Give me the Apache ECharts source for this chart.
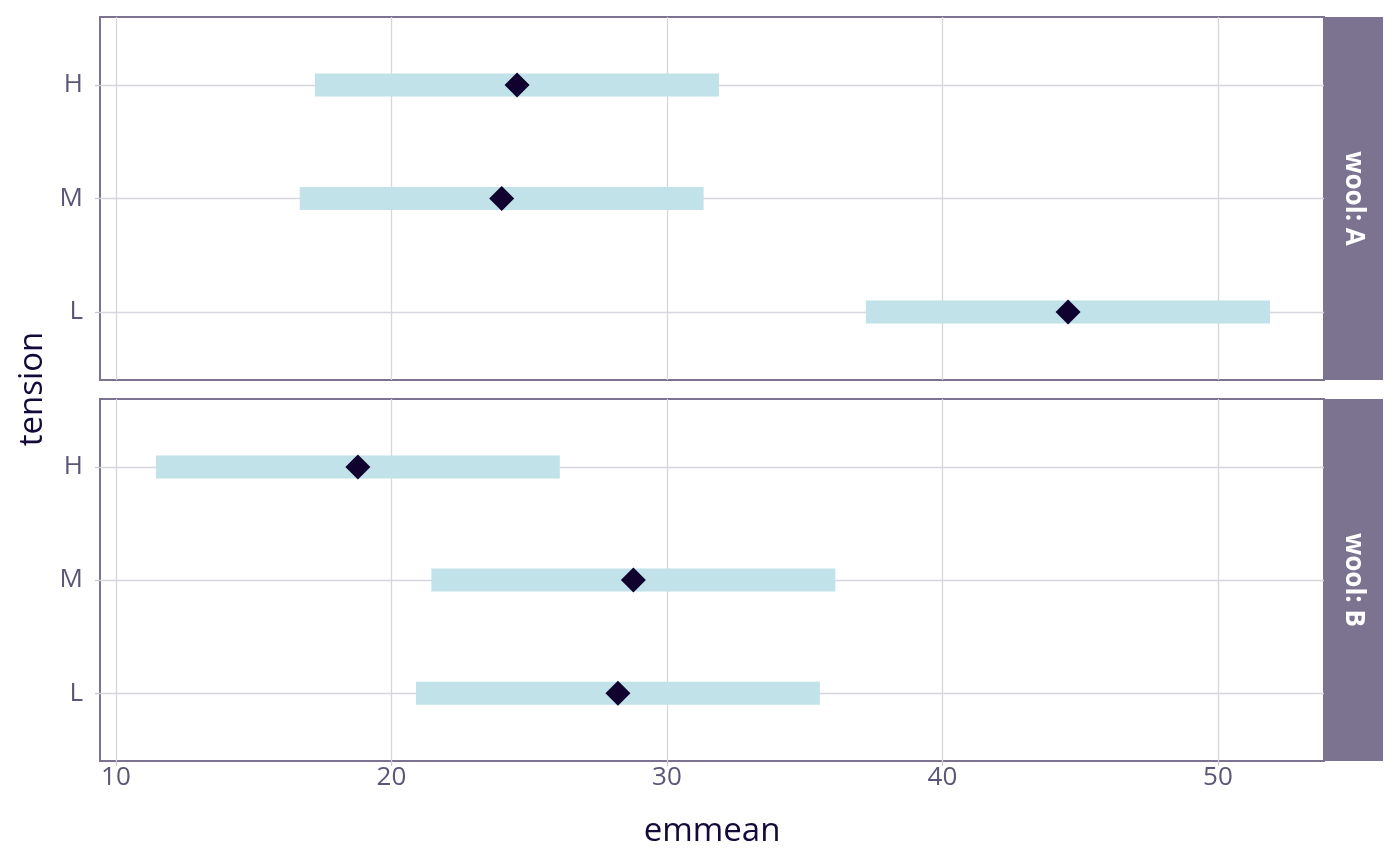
<!DOCTYPE html>
<html><head><meta charset="utf-8">
<script src="https://cdn.jsdelivr.net/npm/echarts@6/dist/echarts.min.js"></script>
<style>html,body{margin:0;padding:0;background:#fff}#c{width:1400px;height:866px}</style>
</head><body><div id="c"></div>
<script>
const tensions = ['L', 'M', 'H'];
const tensionPos = [1, 2, 3];
const panels = ['wool: A', 'wool: B'];
const emmeanA = [44.56, 24.00, 24.56];
const lowerA = [37.22, 16.67, 17.22];
const upperA = [51.89, 31.33, 31.89];
const emmeanB = [28.22, 28.78, 18.78];
const lowerB = [20.89, 21.45, 11.45];
const upperB = [35.55, 36.11, 26.11];
const xTicks = [10, 20, 30, 40, 50];

const FONT = 'Open Sans';
const BORDER = '#7b7390';
const GRIDC = '#d7d5dd';
const LABELC = '#5c5577';
const TITLEC = '#14093a';

const chart = echarts.init(document.getElementById('c'), null, {renderer: 'canvas'});

const grids = [
  {left: 100, top: 17, width: 1224, height: 363},
  {left: 100, top: 399, width: 1224, height: 362}
];

function xAxisFor(i) {
  return {
    type: 'value', gridIndex: i, min: 9.42, max: 53.85, splitNumber: 5,
    axisLine: {show: false},
    axisTick: {show: i === 1, length: 5, lineStyle: {color: '#c9c6d1', width: 1.2}, customValues: xTicks},
    axisLabel: {show: i === 1, customValues: xTicks,
      color: LABELC, fontFamily: FONT, fontSize: 26, margin: 4},
    splitLine: {show: true, lineStyle: {color: GRIDC, width: 1.3}},
    name: i === 1 ? 'emmean' : '', nameLocation: 'middle', nameGap: 54,
    nameTextStyle: {color: TITLEC, fontFamily: FONT, fontSize: 33}
  };
}
function yAxisFor(i) {
  return {
    type: 'value', gridIndex: i, min: 0.4, max: 3.6, splitNumber: 3,
    axisLine: {show: false},
    axisTick: {show: true, length: 5, lineStyle: {color: '#c9c6d1', width: 1.2}, customValues: tensionPos},
    axisLabel: {customValues: tensionPos,
      color: LABELC, fontFamily: FONT, fontSize: 26, margin: 17,
      formatter: v => { const k = tensionPos.indexOf(Math.round(v)); return Math.abs(v - Math.round(v)) < 1e-6 && k >= 0 ? tensions[k] : ''; }},
    splitLine: {show: true, lineStyle: {color: GRIDC, width: 1.3}}
  };
}

function barSeries(i, lo, hi) {
  return {
    type: 'custom', xAxisIndex: i, yAxisIndex: i, silent: true,
    data: tensionPos.map((p, k) => [lo[k], hi[k], p]),
    encode: {x: [0, 1], y: 2},
    renderItem: (params, api) => {
      const a = api.coord([api.value(0), api.value(2)]);
      const b = api.coord([api.value(1), api.value(2)]);
      const h = 23;
      return {type: 'rect', shape: {x: a[0], y: a[1] - h / 2, width: b[0] - a[0], height: h},
        style: {fill: '#c0e2e8'}};
    }
  };
}
function pointSeries(i, em) {
  return {
    type: 'scatter', xAxisIndex: i, yAxisIndex: i, silent: true,
    symbol: 'diamond', symbolSize: 25,
    itemStyle: {color: '#10012e', opacity: 1},
    data: tensionPos.map((p, k) => [em[k], p])
  };
}

const option = {
  backgroundColor: '#ffffff',
  animation: false,
  grid: grids.map(g => Object.assign({show: true, borderColor: BORDER, borderWidth: 2, backgroundColor: 'transparent'}, g)),
  xAxis: [xAxisFor(0), xAxisFor(1)],
  yAxis: [yAxisFor(0), yAxisFor(1)],
  series: [
    barSeries(0, lowerA, upperA), pointSeries(0, emmeanA),
    barSeries(1, lowerB, upperB), pointSeries(1, emmeanB)
  ],
  graphic: [
    {type: 'rect', shape: {x: 1324, y: 17, width: 59, height: 363}, style: {fill: BORDER}},
    {type: 'rect', shape: {x: 1324, y: 399, width: 59, height: 362}, style: {fill: BORDER}},
    {type: 'text', x: 1353.5, y: 198.5, rotation: -Math.PI / 2,
      style: {text: panels[0], fill: '#ffffff', font: 'bold 26px "Open Sans"', align: 'center', verticalAlign: 'middle'}},
    {type: 'text', x: 1353.5, y: 580, rotation: -Math.PI / 2,
      style: {text: panels[1], fill: '#ffffff', font: 'bold 26px "Open Sans"', align: 'center', verticalAlign: 'middle'}},
    {type: 'text', x: 33, y: 389, rotation: Math.PI / 2,
      style: {text: 'tension', fill: TITLEC, font: '33px "Open Sans"', align: 'center', verticalAlign: 'middle'}}
  ]
};
chart.setOption(option);
</script></body></html>
